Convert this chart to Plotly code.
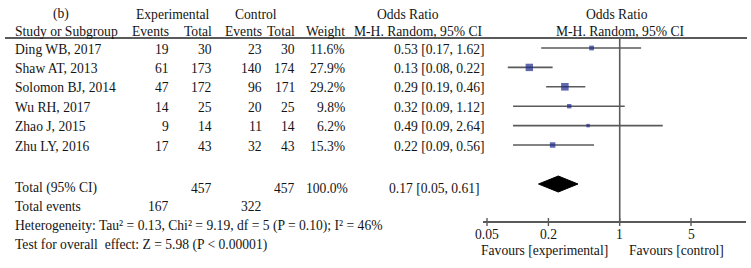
import math
import plotly.graph_objects as go

# ---------------- data ----------------
studies = ["Ding WB, 2017", "Shaw AT, 2013", "Solomon BJ, 2014",
           "Wu RH, 2017", "Zhao J, 2015", "Zhu LY, 2016"]
exp_events = [19, 61, 47, 14, 9, 17]
exp_total = [30, 173, 172, 25, 14, 43]
ctrl_events = [23, 140, 96, 20, 11, 32]
ctrl_total = [30, 174, 171, 25, 14, 43]
weights = [11.6, 27.9, 29.2, 9.8, 6.2, 15.3]
odds = [0.53, 0.13, 0.29, 0.32, 0.49, 0.22]
ci_low = [0.17, 0.08, 0.19, 0.09, 0.09, 0.09]
ci_high = [1.62, 0.22, 0.46, 1.12, 2.64, 0.56]

total_exp = 457
total_ctrl = 457
total_weight = "100.0%"
total_or_text = "0.17 [0.05, 0.61]"
total_events_exp = 167
total_events_ctrl = 322
# pooled diamond as drawn in the picture (low, centre, high)
diamond_drawn = [0.16, 0.25, 0.39]

tick_vals = [0.05, 0.2, 1, 5]
tick_text = ["0.05", "0.2", "1", "5"]

heterogeneity = "Heterogeneity: Tau² = 0.13, Chi² = 9.19, df = 5 (P = 0.10); I² = 46%"
overall = "Test for overall  effect: Z = 5.98 (P < 0.00001)"

# ---------------- layout constants ----------------
W, H = 751, 268
FONT = "Liberation Serif, Times New Roman, serif"
FS = 13.6
TXT = "#141414"
LINE = "#5a5a5a"
NAVY = "#1c2a8c"

row_y = [48 + 19.4 * i for i in range(len(studies))]
total_y = 188
events_y = 206
het_y = 226
test_y = 245
diamond_y = 184
axis_y = 222
rule_y = 38

fig = go.Figure()

# CI lines
for i in range(len(studies)):
    fig.add_trace(go.Scatter(x=[ci_low[i], ci_high[i]], y=[row_y[i], row_y[i]],
                             mode="lines", line=dict(color=LINE, width=1.6),
                             hoverinfo="skip", showlegend=False))
# point estimates
fig.add_trace(go.Scatter(x=odds, y=row_y, mode="markers",
                         marker=dict(symbol="square", color=NAVY,
                                     size=[14 * (w / 100) ** 0.5 for w in weights],
                                     line=dict(width=0)),
                         hoverinfo="skip", showlegend=False))
# diamond
lo, mid, hi = diamond_drawn
fig.add_trace(go.Scatter(x=[lo, mid, hi, mid, lo],
                         y=[diamond_y, diamond_y - 8, diamond_y, diamond_y + 8, diamond_y],
                         mode="lines", fill="toself", fillcolor="black",
                         line=dict(color="black", width=1), hoverinfo="skip", showlegend=False))
# line of no effect
fig.add_trace(go.Scatter(x=[1, 1], y=[rule_y, axis_y], mode="lines",
                         line=dict(color=LINE, width=1.6), hoverinfo="skip", showlegend=False))
# tick marks crossing the axis line
for tv in tick_vals:
    fig.add_trace(go.Scatter(x=[tv, tv], y=[axis_y - 4, axis_y + 4], mode="lines",
                             line=dict(color=LINE, width=1.4), hoverinfo="skip", showlegend=False))

# header rule
fig.add_shape(type="line", xref="paper", yref="y", x0=5 / W, x1=747 / W, y0=rule_y, y1=rule_y,
              line=dict(color=LINE, width=2))

ann = []


def t(x, y, s, anchor="left"):
    ann.append(dict(x=x / W, y=y, xref="paper", yref="y", text=s, showarrow=False,
                    xanchor=anchor, yanchor="middle",
                    font=dict(family=FONT, size=FS, color=TXT)))


# headers
t(61, 14, "(b)", "center")
t(172, 14, "Experimental", "center")
t(256, 14, "Control", "center")
t(408, 14, "Odds Ratio", "center")
t(617, 14, "Odds Ratio", "center")
t(13, 31, "Study or Subgroup")
t(171, 31, "Events", "right")
t(214, 31, "Total", "right")
t(264, 31, "Events", "right")
t(297, 31, "Total", "right")
t(347, 31, "Weight", "right")
t(418, 31, "M-H. Random, 95% CI", "center")
t(620, 31, "M-H. Random, 95% CI", "center")

for i, s in enumerate(studies):
    y = row_y[i] + 1
    t(13, y, s)
    t(171, y, str(exp_events[i]), "right")
    t(214, y, str(exp_total[i]), "right")
    t(264, y, str(ctrl_events[i]), "right")
    t(297, y, str(ctrl_total[i]), "right")
    t(347, y, f"{weights[i]:.1f}%", "right")
    t(487, y, f"{odds[i]:.2f} [{ci_low[i]:.2f}, {ci_high[i]:.2f}]", "right")

t(13, total_y, "Total (95% CI)")
t(214, total_y, str(total_exp), "right")
t(297, total_y, str(total_ctrl), "right")
t(350, total_y, total_weight, "right")
t(482, total_y, total_or_text, "right")
t(13, events_y, "Total events")
t(171, events_y, str(total_events_exp), "right")
t(264, events_y, str(total_events_ctrl), "right")
t(13, het_y, heterogeneity)
t(13, test_y, overall)

t(544, 250, "Favours [experimental]", "center")
t(676, 250, "Favours [control]", "center")

# tick labels placed through the log axis
for tv, tt in zip(tick_vals, tick_text):
    ann.append(dict(x=math.log10(tv), y=234, xref="x", yref="y", text=tt, showarrow=False,
                    xanchor="center", yanchor="middle",
                    font=dict(family=FONT, size=FS, color=TXT)))

# axis geometry: 0.05 -> 487px, 5 -> 691px
ppd = (691 - 487) / 2.0
x0px, x1px = 483, 746
r0 = math.log10(0.05) - (487 - x0px) / ppd
r1 = math.log10(5) + (x1px - 691) / ppd

fig.update_layout(
    width=W, height=H, margin=dict(l=0, r=0, t=0, b=0),
    paper_bgcolor="white", plot_bgcolor="rgba(0,0,0,0)",
    showlegend=False, annotations=ann,
    xaxis=dict(type="log", range=[r0, r1], domain=[x0px / W, x1px / W],
               anchor="free", position=1 - axis_y / H,
               showline=True, linecolor=LINE, linewidth=1.6,
               ticks="", showticklabels=False,
               showgrid=False, zeroline=False, fixedrange=True),
    yaxis=dict(range=[H, 0], domain=[0, 1], visible=False, fixedrange=True),
)

fig.write_html("out.html", config={"displayModeBar": False},
               post_script="document.body.style.margin='0';document.body.style.overflow='hidden';")
